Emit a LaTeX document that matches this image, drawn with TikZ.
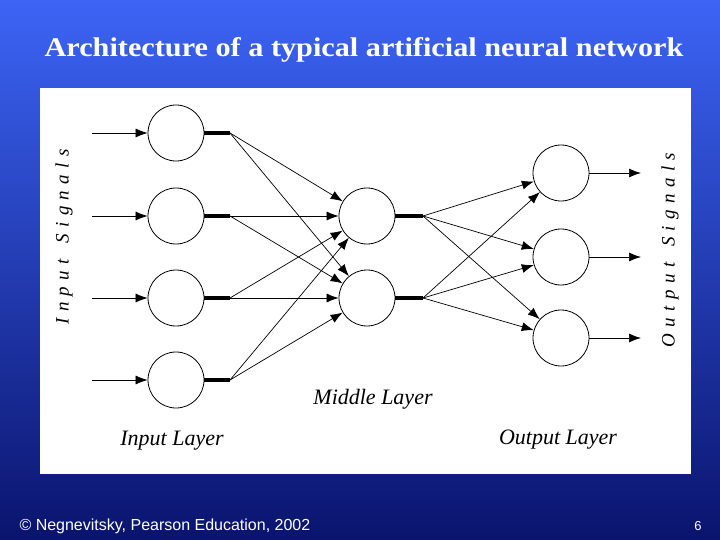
\documentclass[tikz,border=0pt]{standalone}
\usepackage{fontspec}
\setmainfont{Liberation Serif}
\newfontfamily\arialf{Liberation Sans}
\usetikzlibrary{arrows.meta}
\definecolor{topblue}{RGB}{60,100,245}
\definecolor{botblue}{RGB}{10,20,110}
\begin{document}
\begin{tikzpicture}[x=1pt,y=-1pt,
  neuron/.style={circle,draw,line width=0.8pt,minimum size=56pt,inner sep=0pt},
  stub/.style={line width=3.5pt},
  conn/.style={line width=0.7pt,-{Latex[length=12pt,width=9pt]}},
  lbl/.style={font=\itshape\fontsize{22}{26}\selectfont},
  sig/.style={font=\itshape\fontsize{19}{22}\selectfont}]
\shade[top color=topblue,bottom color=botblue] (0,0) rectangle (720,540);
\useasboundingbox (0,0) rectangle (720,540);
\fill[white] (40,88) rectangle (691,474);
\node[text=white,xscale=1.12,font=\fontsize{27}{30}\selectfont] (title) at (364,50) {\textbf{Architecture of a typical artificial neural network}};
\foreach \i/\y in {1/133,2/216,3/298,4/380}{
  \node[neuron] (i\i) at (176,\y) {};
  \coordinate (is\i) at (92,\y);
  \coordinate (ie\i) at (230,\y);
  \draw[conn] (is\i) -- (i\i);
  \draw[stub] (i\i.east) -- (ie\i);
}
\foreach \j/\y in {1/216,2/298}{
  \node[neuron] (m\j) at (367,\y) {};
  \coordinate (me\j) at (423,\y);
  \draw[stub] (m\j.east) -- (me\j);
}
\foreach \k/\y in {1/173,2/257,3/338}{
  \node[neuron] (o\k) at (561,\y) {};
  \coordinate (oe\k) at (641,\y);
  \draw[conn] (o\k) -- (oe\k);
}
\foreach \i in {1,2,3,4}{\foreach \j in {1,2}{\draw[conn] (ie\i) -- (m\j);}}
\foreach \j in {1,2}{\foreach \k in {1,2,3}{\draw[conn] (me\j) -- (o\k);}}
\node[sig,rotate=90] (insig) at (64,237) {I\,\,n\,\,p\,\,u\,\,t\,\,\,\,\,S\,\,i\,\,g\,\,n\,\,a\,\,l\,\,s};
\node[sig,rotate=90] (outsig) at (670,250) {O\,\,u\,\,t\,\,p\,\,u\,\,t\,\,\,\,\,S\,\,i\,\,g\,\,n\,\,a\,\,l\,\,s};
\node[lbl] (ml) at (373,399) {Middle Layer};
\node[lbl] (il) at (172,441) {Input Layer};
\node[lbl] (ol) at (558,440) {Output Layer};
\node[text=white,font=\arialf\fontsize{16}{19}\selectfont,anchor=west] (foot) at (16,526) {\textcopyright{} Negnevitsky, Pearson Education, 2002};
\node[text=white,font=\arialf\fontsize{13}{16}\selectfont] (pg) at (698,526) {6};
\end{tikzpicture}
\end{document}
